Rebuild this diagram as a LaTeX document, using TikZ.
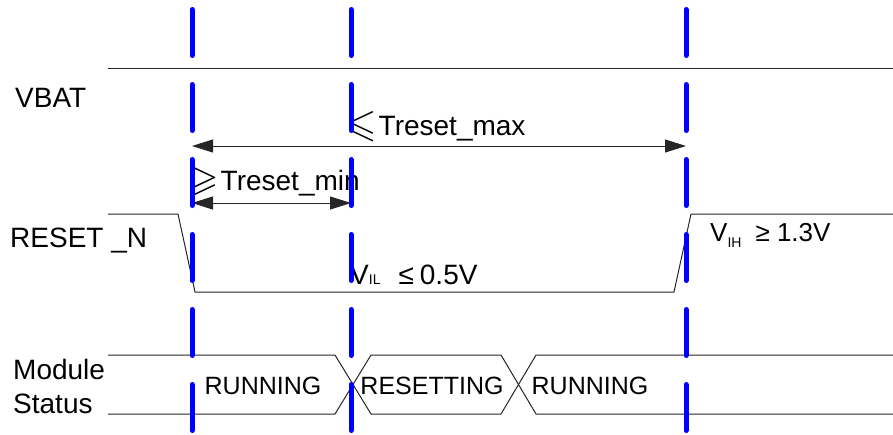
\documentclass[tikz,border=0pt]{standalone}
\usepackage{fontspec}
\usepackage{amssymb}
\usepackage{graphicx}
\setmainfont{Liberation Sans}
\usetikzlibrary{arrows.meta}
\newcommand{\myleq}{\raisebox{-1pt}{\scalebox{1.4}{$\leqslant$}}}
\newcommand{\mygeq}{\raisebox{-1pt}{\scalebox{1.4}{$\geqslant$}}}
\begin{document}
\begin{tikzpicture}[x=1pt,y=-1pt,
  sig/.style={draw=black!85, line width=1pt, line join=miter},
  guide/.style={draw={rgb,255:red,0;green,0;blue,255}, line width=5pt, line cap=round, dash pattern=on 46pt off 29pt},
  dim/.style={draw=black!85, line width=1pt, {Triangle[length=21pt,width=13pt]}-{Triangle[length=21pt,width=13pt]}},
  lbl/.style={font=\fontsize{28}{30}\selectfont, inner sep=0pt, anchor=base west},
  st/.style={font=\fontsize{25}{27}\selectfont, inner sep=0pt, anchor=base},
]
\useasboundingbox (0,0) rectangle (893,434);

% coordinates
\coordinate (g1t) at (192,9.5);   \coordinate (g1b) at (192,430.5);
\coordinate (g2t) at (351,9.5);   \coordinate (g2b) at (351,430.5);
\coordinate (g3t) at (686,9.5);   \coordinate (g3b) at (686,430.5);

% VBAT
\coordinate (v0) at (108,68); \coordinate (v1) at (893,68);
\draw[sig] (v0) -- (v1);

% RESET_N
\coordinate (r0) at (108,214); \coordinate (r1) at (178,214);
\coordinate (r2) at (195,292); \coordinate (r3) at (674,292);
\coordinate (r4) at (691,214); \coordinate (r5) at (893,214);
\draw[sig] (r0) -- (r1) -- (r2) -- (r3) -- (r4) -- (r5);

% Module status bus
\coordinate (m0) at (108,355); \coordinate (m1) at (335,355);
\coordinate (m2) at (371,414); \coordinate (m3) at (501,414);
\coordinate (m4) at (536,355); \coordinate (m5) at (893,355);
\coordinate (n0) at (108,414); \coordinate (n1) at (335,414);
\coordinate (n2) at (371,355); \coordinate (n3) at (501,355);
\coordinate (n4) at (536,414); \coordinate (n5) at (893,414);
\draw[sig] (m0) -- (m1) -- (m2) -- (m3) -- (m4) -- (m5);
\draw[sig] (n0) -- (n1) -- (n2) -- (n3) -- (n4) -- (n5);

% dimension arrows
\coordinate (a1) at (192,146); \coordinate (a2) at (686,146);
\coordinate (b1) at (192,203); \coordinate (b2) at (351,203);
\draw[dim] (a1) -- (a2);
\draw[dim] (b1) -- (b2);

% labels
\node[lbl] (vbat) at (15,107) {VBAT};
\node[lbl] (rstn) at (10,247) {RESET \_N};
\node[lbl] (mod) at (13,379) {Module};
\node[lbl] (stat) at (13,413) {Status};
\node[lbl] (tmax) at (346,135) {\myleq\hspace{2pt}Treset\_max};
\node[lbl] (tmin) at (188,190) {\mygeq\hspace{2pt}Treset\_min};
\node[lbl] (vil) at (350,284) {V{\fontsize{14}{14}\selectfont IL}\hspace{18pt}≤\hspace{6pt}0.5V};
\node[lbl, font=\fontsize{26}{28}\selectfont] (vih) at (710,241) {V\raisebox{-6pt}{\fontsize{14}{14}\selectfont IH}\hspace{14pt}≥ 1.3V};
\node[st] (run1) at (263,394) {RUNNING};
\node[st] (rsting) at (432,394) {RESETTING};
\node[st] (run2) at (590,394) {RUNNING};

% blue guides
\draw[guide] (g1t) -- (g1b);
\draw[guide] (g2t) -- (g2b);
\draw[guide] (g3t) -- (g3b);
\end{tikzpicture}
\end{document}
